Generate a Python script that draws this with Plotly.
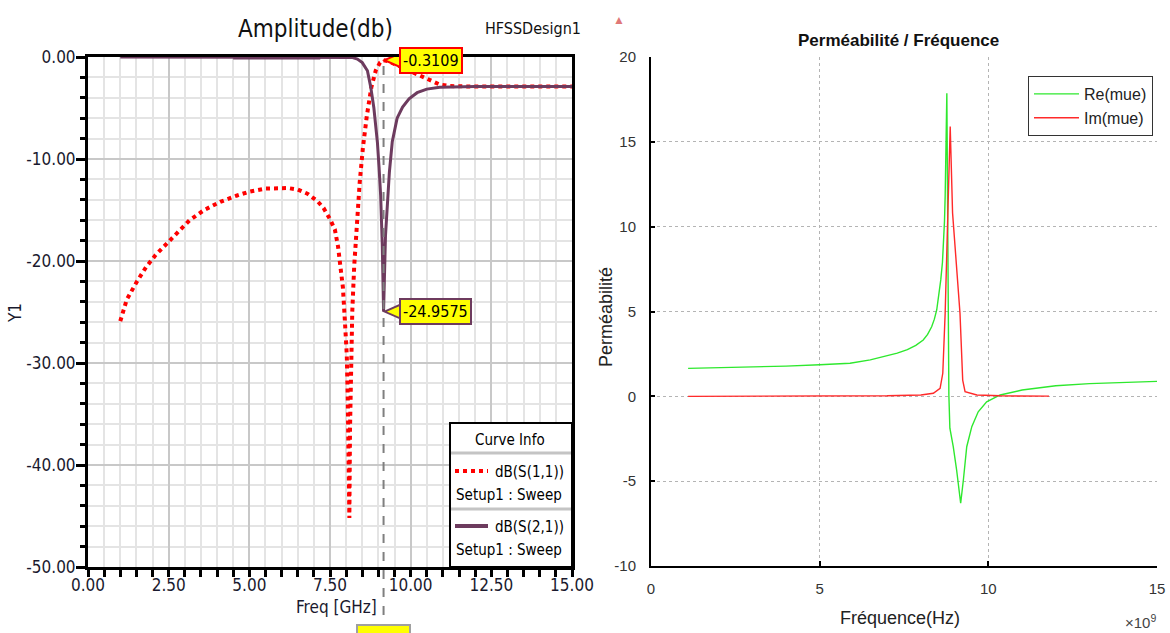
import plotly.graph_objects as go

# ---------------- data: left chart (HFSS S-parameters) ----------------
s11_freq = [1.0, 1.2, 1.5, 1.8, 2.1, 2.4, 2.75, 3.15, 3.6, 4.1, 4.6, 5.0, 5.5, 5.9,
            6.2, 6.5, 6.8, 7.1, 7.3, 7.5, 7.65, 7.75, 7.83, 7.9, 7.96, 8.02, 8.05,
            8.08, 8.10, 8.12, 8.15, 8.19, 8.25, 8.33, 8.42, 8.52, 8.64, 8.78, 8.92,
            9.05, 9.16, 9.3, 9.5, 9.7, 9.9, 10.1, 10.3, 10.5, 10.7, 10.9, 11.2, 11.6,
            12.0, 13.0, 14.0, 15.0]
s11_db = [-25.9, -23.8, -22.1, -20.6, -19.4, -18.4, -17.2, -16.0, -15.0, -14.2, -13.6,
          -13.2, -12.9, -12.85, -12.85, -13.0, -13.4, -14.1, -14.8, -15.9, -16.9, -18.6,
          -20.4, -22.6, -25.8, -29.2, -33.5, -38.5, -45.2, -36.5, -30.0, -25.0, -20.5,
          -16.2, -12.3, -8.9, -5.8, -3.0, -1.3, -0.55, -0.3109, -0.4, -0.7, -1.0, -1.3,
          -1.6, -1.9, -2.2, -2.5, -2.7, -2.85, -2.9, -2.9, -2.9, -2.9, -2.9]

s21_freq = [1.0, 2.0, 3.0, 4.0, 5.0, 6.0, 7.0, 7.8, 8.2, 8.35, 8.5, 8.66, 8.76, 8.86,
            8.92, 8.97, 9.02, 9.07, 9.12, 9.16, 9.22, 9.28, 9.34, 9.43, 9.58, 9.75,
            9.95, 10.2, 10.5, 10.9, 11.4, 12.0, 13.0, 14.0, 15.0]
s21_db = [0, 0, 0, 0, 0, 0, 0, -0.02, -0.06, -0.2, -0.55, -1.35, -2.9, -5.0, -6.7,
          -8.4, -10.8, -13.6, -18.4, -24.9575, -17.5, -14.2, -11.3, -8.3, -6.0, -4.9,
          -4.1, -3.5, -3.15, -2.97, -2.92, -2.9, -2.9, -2.9, -2.9]
s21_overlap_freq = [4.5, 7.2]
s21_overlap_db = [0, 0]

marker_freq = 9.16
marker_s11 = -0.3109
marker_s21 = -24.9575

left_xticks = [0, 2.5, 5, 7.5, 10, 12.5, 15]
left_xticktext = ["0.00", "2.50", "5.00", "7.50", "10.00", "12.50", "15.00"]
left_yticks = [0, -10, -20, -30, -40, -50]
left_yticktext = ["0.00", "-10.00", "-20.00", "-30.00", "-40.00", "-50.00"]

# ---------------- data: right chart (permeability) ----------------
re_freq_ghz = [1.1, 2.0, 3.0, 4.0, 5.0, 5.9, 6.5, 6.9, 7.3, 7.6, 7.85, 8.07, 8.2, 8.32,
               8.4, 8.47, 8.54, 8.59, 8.64, 8.67, 8.70, 8.72, 8.74, 8.75, 8.77, 8.79,
               8.81, 8.83, 8.86, 8.96, 9.06, 9.18, 9.26, 9.36, 9.51, 9.70, 9.95, 10.35,
               11.0, 12.0, 13.0, 14.0, 15.0]
re_mue = [1.65, 1.68, 1.72, 1.78, 1.86, 1.95, 2.15, 2.34, 2.55, 2.75, 3.0, 3.32, 3.65,
          4.10, 4.55, 5.09, 6.0, 6.86, 7.9, 8.82, 10.3, 11.77, 13.5, 14.7, 17.86, 12.0,
          5.0, 0.08, -1.88, -2.97, -4.34, -6.3, -4.93, -2.97, -1.79, -0.91, -0.32, 0.08,
          0.37, 0.62, 0.75, 0.82, 0.88]

im_freq_ghz = [1.1, 3.0, 5.0, 7.0, 8.0, 8.37, 8.57, 8.65, 8.72, 8.79, 8.87, 8.94, 9.04,
               9.16, 9.24, 9.31, 9.66, 10.35, 11.8]
im_mue = [0.0, 0.0, 0.01, 0.03, 0.08, 0.18, 0.47, 1.36, 4.89, 10.8, 15.9, 10.8, 8.23,
          4.89, 0.96, 0.27, 0.08, 0.03, 0.01]

right_xticks_ghz = [0, 5, 10, 15]
right_xticktext = ["0", "5", "10", "15"]
right_yticks = [-10, -5, 0, 5, 10, 15, 20]
right_yticktext = ["-10", "-5", "0", "5", "10", "15", "20"]

# ---------------- layout helpers ----------------
W, H = 1170, 633
def px(x):
    return x / W
def py(y):
    return 1 - y / H

NARROW = "Liberation Sans Narrow, DejaVu Sans Condensed, Arial Narrow, sans-serif"
SANS = "Liberation Sans, Arial, sans-serif"
RED = "#ff0000"
PURPLE = "#6d3b5e"
GREEN = "#2ee82e"
IMRED = "#ff2a2a"
TXT = "#1a1a2e"

fig = go.Figure()

fig.add_trace(go.Scatter(x=s11_freq, y=s11_db, mode="lines", name="dB(S(1,1))",
                         line=dict(color=RED, width=4, dash="dot"),
                         xaxis="x", yaxis="y", showlegend=False))
fig.add_trace(go.Scatter(x=s21_freq, y=s21_db, mode="lines", name="dB(S(2,1))",
                         line=dict(color=PURPLE, width=3),
                         xaxis="x", yaxis="y", showlegend=False))
fig.add_trace(go.Scatter(x=s21_overlap_freq, y=s21_overlap_db, mode="lines",
                         line=dict(color=PURPLE, width=5),
                         xaxis="x", yaxis="y", showlegend=False, hoverinfo="skip"))

re_freq = [f * 1e9 for f in re_freq_ghz]
im_freq = [f * 1e9 for f in im_freq_ghz]
fig.add_trace(go.Scatter(x=re_freq, y=re_mue, mode="lines", name="Re(mue)",
                         line=dict(color=GREEN, width=1.4), xaxis="x2", yaxis="y2"))
fig.add_trace(go.Scatter(x=im_freq, y=im_mue, mode="lines", name="Im(mue)",
                         line=dict(color=IMRED, width=1.4), xaxis="x2", yaxis="y2"))

fig.update_layout(
    template="none",
    width=W, height=H, margin=dict(l=0, r=0, t=0, b=0, autoexpand=False),
    paper_bgcolor="white", plot_bgcolor="white",
    font=dict(family=SANS, color="#222"),
    xaxis=dict(domain=[px(88), px(572)], range=[0, 15], automargin=False,
               tickmode="array", tickvals=left_xticks, ticktext=left_xticktext,
               ticks="outside", ticklen=7, tickwidth=3, tickcolor="black",
               showline=True, linecolor="black", linewidth=3, mirror=True,
               showgrid=True, gridcolor="#c8c8c8", gridwidth=2, zeroline=False,
               ticklabelstandoff=-6,
               tickfont=dict(family=NARROW, size=17, color=TXT),
               minor=dict(dtick=0.5, tick0=0, ticks="outside", ticklen=7, tickwidth=3,
                          tickcolor="black", showgrid=True, gridcolor="#e4e4e4", gridwidth=2)),
    yaxis=dict(domain=[py(567), py(57)], range=[-50, 0], automargin=False,
               tickmode="array", tickvals=left_yticks, ticktext=left_yticktext,
               ticks="outside", ticklen=9, tickwidth=3, tickcolor="black",
               showline=True, linecolor="black", linewidth=3, mirror=True,
               showgrid=True, gridcolor="#c8c8c8", gridwidth=2, zeroline=False,
               ticklabelstandoff=-3,
               tickfont=dict(family=NARROW, size=17, color=TXT),
               minor=dict(dtick=2, tick0=0, ticks="outside", ticklen=5, tickwidth=3,
                          tickcolor="black", showgrid=True, gridcolor="#e4e4e4", gridwidth=2)),
    xaxis2=dict(domain=[px(651), px(1157)], range=[0, 15e9], anchor="y2", automargin=False,
                tickmode="array", tickvals=[v * 1e9 for v in right_xticks_ghz],
                ticktext=right_xticktext,
                ticks="inside", ticklen=5, tickwidth=2, tickcolor="black",
                showline=True, linecolor="black", linewidth=2,
                showgrid=True, gridcolor="#b4b4b4", gridwidth=1, griddash="dot",
                zeroline=False, ticklabelstandoff=8,
                tickfont=dict(family=SANS, size=15, color="#333")),
    yaxis2=dict(domain=[py(566), py(57)], range=[-10, 20], anchor="x2", automargin=False,
                tickmode="array", tickvals=right_yticks, ticktext=right_yticktext,
                ticks="inside", ticklen=4, tickwidth=2, tickcolor="black",
                showline=True, linecolor="black", linewidth=2,
                showgrid=True, gridcolor="#b4b4b4", gridwidth=1, griddash="dot",
                zeroline=False, ticklabelstandoff=10,
                tickfont=dict(family=SANS, size=15, color="#333")),
    legend=dict(x=px(1153), xanchor="right", y=py(76), yanchor="top",
                bordercolor="#333", borderwidth=1, bgcolor="white",
                font=dict(family=SANS, size=16, color="#222"),
                itemwidth=45, tracegroupgap=0),
)

shapes = []
annotations = []

# marker dashed line (extends below the axis)
shapes.append(dict(type="line", xref="x", yref="paper", x0=marker_freq, x1=marker_freq,
                   y0=py(633), y1=py(57), line=dict(color="#7f7f7f", width=2, dash="dash"),
                   layer="above"))
shapes.append(dict(type="rect", xref="paper", yref="paper", x0=px(357), x1=px(410),
                   y0=py(640), y1=py(625), fillcolor="#ffff00",
                   line=dict(color="#a0a0a0", width=2), layer="above"))

# marker callouts
for yval, col, txt in [(marker_s11, RED, "-0.3109"), (marker_s21, PURPLE, "-24.9575")]:
    shapes.append(dict(type="path", xref="x", yref="y", xsizemode="pixel", ysizemode="pixel",
                       xanchor=marker_freq, yanchor=yval,
                       path="M 1,0 L 17,7 L 17,-7 Z", fillcolor="#ffff00",
                       line=dict(color=col, width=2), layer="above"))
    annotations.append(dict(x=marker_freq, y=yval, xref="x", yref="y", text=txt,
                            showarrow=False, xanchor="left", yanchor="middle", xshift=15,
                            bgcolor="#ffff00", bordercolor=col, borderwidth=2, borderpad=2,
                            font=dict(family=NARROW, size=16, color="black")))

# curve info box
shapes.append(dict(type="rect", xref="paper", yref="paper", x0=px(450), x1=px(572),
                   y0=py(567), y1=py(423), fillcolor="white",
                   line=dict(color="black", width=2), layer="above"))
for ys in [453, 509]:
    shapes.append(dict(type="line", xref="paper", yref="paper", x0=px(451), x1=px(571),
                       y0=py(ys), y1=py(ys), line=dict(color="#c4c4c4", width=3), layer="above"))
shapes.append(dict(type="line", xref="paper", yref="paper", x0=px(455), x1=px(488),
                   y0=py(471), y1=py(471), line=dict(color=RED, width=4, dash="dot"), layer="above"))
shapes.append(dict(type="line", xref="paper", yref="paper", x0=px(455), x1=px(488),
                   y0=py(526), y1=py(526), line=dict(color=PURPLE, width=4), layer="above"))

def ann(x, y, text, size, family=NARROW, xanchor="center", color="black", angle=0, bold=False):
    annotations.append(dict(x=px(x), y=py(y), xref="paper", yref="paper", text=text,
                            showarrow=False, xanchor=xanchor, yanchor="middle",
                            textangle=angle,
                            font=dict(family=family, size=size, color=color,
                                      weight="bold" if bold else "normal")))

ann(510, 440, "Curve Info", 15)
ann(566, 472, "dB(S(1,1))", 15, xanchor="right")
ann(454, 495, "Setup1 : Sweep", 15, xanchor="left")
ann(566, 527, "dB(S(2,1))", 15, xanchor="right")
ann(454, 550, "Setup1 : Sweep", 15, xanchor="left")

# left chart titles
ann(315, 29, "Amplitude(db)", 24, color="#111")
ann(533, 29, "HFSSDesign1", 16, color="#111")
ann(619, 20, "▲", 12, family=SANS, color="#e07878")
ann(336, 607, "Freq [GHz]", 17, color=TXT)
ann(15, 313, "Y1", 17, color=TXT, angle=-90)

# right chart titles
ann(898, 40, "Perméabilité / Fréquence", 17, family=SANS, color="#111", bold=True)
ann(606, 317, "Perméabilité", 18, family=SANS, color="#222", angle=-90)
ann(900, 618, "Fréquence(Hz)", 18, family=SANS, color="#222")
ann(1140, 621, "×10<sup>9</sup>", 15, family=SANS, color="#444")

fig.update_layout(shapes=shapes, annotations=annotations)
fig.write_html("out.html")
